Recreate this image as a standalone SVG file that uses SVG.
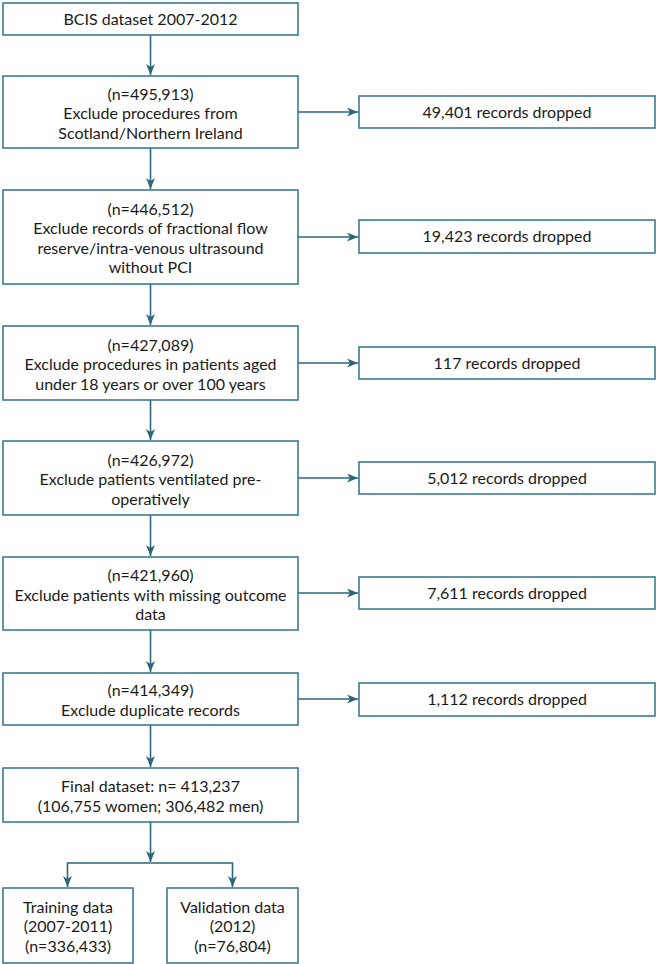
<svg xmlns="http://www.w3.org/2000/svg" width="658" height="964" viewBox="0 0 658 964">
<style>
.box{fill:#ffffff;stroke:#3b7b8f;stroke-width:1.6}
.t{font-family:Lato,"Liberation Sans",sans-serif;font-size:16px;fill:#1a1a1a;text-anchor:middle}
.c{fill:none;stroke:#2b677b;stroke-width:1.6}
</style>
<defs>
<marker id="ah" markerUnits="userSpaceOnUse" markerWidth="12" markerHeight="10" refX="11" refY="4.5" orient="auto">
<path d="M0,0 L11,4.5 L0,9 L3,4.5 z" fill="#2b677b"/>
</marker>
</defs>
<rect width="658" height="964" fill="#ffffff"/>
<g id="connectors">
<path class="c" d="M150.5,35 V75" marker-end="url(#ah)"/>
<path class="c" d="M150.5,148 V189" marker-end="url(#ah)"/>
<path class="c" d="M150.5,284 V325" marker-end="url(#ah)"/>
<path class="c" d="M150.5,400 V440" marker-end="url(#ah)"/>
<path class="c" d="M150.5,515 V556" marker-end="url(#ah)"/>
<path class="c" d="M150.5,630 V672" marker-end="url(#ah)"/>
<path class="c" d="M150.5,725 V767" marker-end="url(#ah)"/>
<path class="c" d="M150.5,822 V862" marker-end="url(#ah)"/>
<path class="c" d="M150.5,863 H67.5 V887" marker-end="url(#ah)"/>
<path class="c" d="M150.5,863 H232.5 V887" marker-end="url(#ah)"/>
<path class="c" d="M298,112 H358" marker-end="url(#ah)"/>
<path class="c" d="M298,237 H358" marker-end="url(#ah)"/>
<path class="c" d="M298,363 H358" marker-end="url(#ah)"/>
<path class="c" d="M298,478 H358" marker-end="url(#ah)"/>
<path class="c" d="M298,593 H358" marker-end="url(#ah)"/>
<path class="c" d="M298,699 H358" marker-end="url(#ah)"/>
</g>
<g id="n1"><rect class="box" x="3" y="3" width="295" height="32"/><text class="t" x="150.5" y="25">BCIS dataset 2007-2012</text></g>
<g id="n2"><rect class="box" x="3" y="76" width="295" height="72"/>
<text class="t" x="150.5" y="99.5">(n=495,913)</text>
<text class="t" x="150.5" y="119">Exclude procedures from</text>
<text class="t" x="150.5" y="138.5">Scotland/Northern Ireland</text></g>
<g id="n3"><rect class="box" x="3" y="190" width="295" height="94"/>
<text class="t" x="150.5" y="214.5">(n=446,512)</text>
<text class="t" x="150.5" y="234">Exclude records of fractional flow</text>
<text class="t" x="150.5" y="253.5">reserve/intra-venous ultrasound</text>
<text class="t" x="150.5" y="273">without PCI</text></g>
<g id="n4"><rect class="box" x="3" y="326" width="295" height="74"/>
<text class="t" x="150.5" y="350.5">(n=427,089)</text>
<text class="t" x="150.5" y="370">Exclude procedures in patients aged</text>
<text class="t" x="150.5" y="389.5">under 18 years or over 100 years</text></g>
<g id="n5"><rect class="box" x="3" y="441" width="295" height="74"/>
<text class="t" x="150.5" y="465.5">(n=426,972)</text>
<text class="t" x="150.5" y="485">Exclude patients ventilated pre-</text>
<text class="t" x="150.5" y="504.5">operatively</text></g>
<g id="n6"><rect class="box" x="3" y="557" width="295" height="73"/>
<text class="t" x="150.5" y="581">(n=421,960)</text>
<text class="t" x="150.5" y="600.5">Exclude patients with missing outcome</text>
<text class="t" x="150.5" y="620">data</text></g>
<g id="n7"><rect class="box" x="3" y="673" width="295" height="52"/>
<text class="t" x="150.5" y="696">(n=414,349)</text>
<text class="t" x="150.5" y="715.5">Exclude duplicate records</text></g>
<g id="n8"><rect class="box" x="3" y="768" width="295" height="54"/>
<text class="t" x="150.5" y="792">Final dataset: n= 413,237</text>
<text class="t" x="150.5" y="811.5">(106,755 women; 306,482 men)</text></g>
<g id="n9"><rect class="box" x="3" y="888" width="130" height="75"/>
<text class="t" x="68" y="912.5">Training data</text>
<text class="t" x="68" y="932">(2007-2011)</text>
<text class="t" x="68" y="951.5">(n=336,433)</text></g>
<g id="n10"><rect class="box" x="167" y="888" width="131" height="75"/>
<text class="t" x="232.5" y="912.5">Validation data</text>
<text class="t" x="232.5" y="932">(2012)</text>
<text class="t" x="232.5" y="951.5">(n=76,804)</text></g>
<g id="d1"><rect class="box" x="359" y="96" width="296" height="32"/><text class="t" x="507" y="117.5">49,401 records dropped</text></g>
<g id="d2"><rect class="box" x="359" y="220" width="296" height="33"/><text class="t" x="507" y="242">19,423 records dropped</text></g>
<g id="d3"><rect class="box" x="359" y="347" width="296" height="32"/><text class="t" x="507" y="368.5">117 records dropped</text></g>
<g id="d4"><rect class="box" x="359" y="462" width="296" height="32"/><text class="t" x="507" y="483.5">5,012 records dropped</text></g>
<g id="d5"><rect class="box" x="359" y="577" width="296" height="32"/><text class="t" x="507" y="598.5">7,611 records dropped</text></g>
<g id="d6"><rect class="box" x="359" y="683" width="296" height="33"/><text class="t" x="507" y="705">1,112 records dropped</text></g>
</svg>
